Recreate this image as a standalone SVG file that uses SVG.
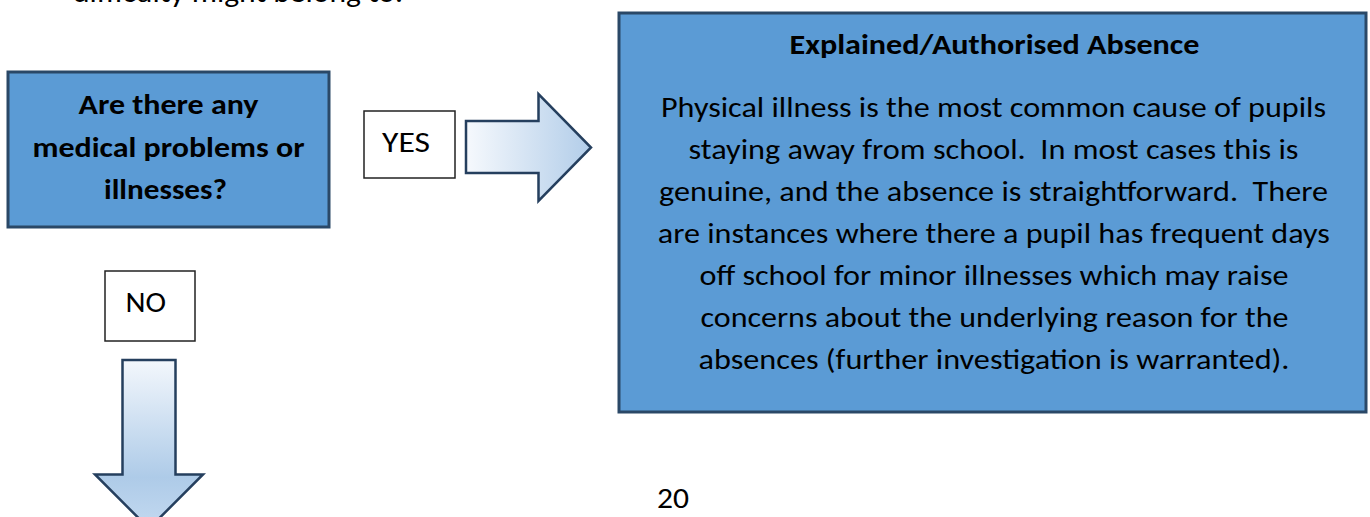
<svg xmlns="http://www.w3.org/2000/svg" width="1370" height="517" viewBox="0 0 1370 517">
  <style>
    .box { fill: #5b9bd5; stroke: #2a4867; stroke-width: 3; }
    .label { fill: #ffffff; stroke: #222222; stroke-width: 1.5; }
    .txt { font-family: Carlito, Lato, "Open Sans", sans-serif; fill: #000000; white-space: pre; }
    .reg { font-size: 29px; }
    .bold { font-size: 29px; font-weight: bold; }
    .mid { text-anchor: middle; }
    .arrow { stroke: #253f5e; stroke-width: 2.5; stroke-linejoin: miter; }
  </style>
  <defs>
    <linearGradient id="gradRight" x1="0" y1="0" x2="1" y2="0">
      <stop offset="0" stop-color="#f6f9fd"/>
      <stop offset="1" stop-color="#b2cde9"/>
    </linearGradient>
    <linearGradient id="gradDown" gradientUnits="userSpaceOnUse" x1="0" y1="360" x2="0" y2="528">
      <stop offset="0" stop-color="#f3f7fc"/>
      <stop offset="0.7" stop-color="#aecbe8"/>
      <stop offset="1" stop-color="#c3d9f0"/>
    </linearGradient>
  </defs>

  <rect width="1370" height="517" fill="#ffffff"/>

  <!-- running text above the chart, cut by the page edge -->
  <text class="txt reg" x="73" y="2" textLength="330" lengthAdjust="spacingAndGlyphs">difficulty might belong to.</text>

  <!-- question -->
  <g id="node-question">
    <rect class="box" x="8" y="72" width="321" height="155"/>
    <text class="txt bold mid" x="168.5" y="114" textLength="180" lengthAdjust="spacingAndGlyphs">Are there any</text>
    <text class="txt bold mid" x="168.5" y="156.5" textLength="272" lengthAdjust="spacingAndGlyphs">medical problems or</text>
    <text class="txt bold mid" x="165.5" y="199" textLength="123" lengthAdjust="spacingAndGlyphs">illnesses?</text>
  </g>

  <!-- answer labels -->
  <g id="label-yes">
    <rect class="label" x="364" y="111" width="91" height="67"/>
    <text class="txt reg" x="382" y="151.5" textLength="48" lengthAdjust="spacingAndGlyphs">YES</text>
  </g>
  <g id="label-no">
    <rect class="label" x="105" y="271" width="90" height="70"/>
    <text class="txt reg" x="125.5" y="311.5" textLength="40.5" lengthAdjust="spacingAndGlyphs">NO</text>
  </g>

  <!-- outcome -->
  <g id="node-authorised">
    <rect class="box" x="619" y="13" width="747" height="399"/>
    <text class="txt bold mid" x="994.5" y="53.5" textLength="410" lengthAdjust="spacingAndGlyphs">Explained/Authorised Absence</text>
    <text class="txt reg mid" x="993.5" y="117.3" textLength="665" lengthAdjust="spacingAndGlyphs">Physical illness is the most common cause of pupils</text>
    <text class="txt reg mid" x="993.5" y="159.3" textLength="610" lengthAdjust="spacingAndGlyphs">staying away from school.  In most cases this is</text>
    <text class="txt reg mid" x="993.5" y="201.3" textLength="669" lengthAdjust="spacingAndGlyphs">genuine, and the absence is straightforward.  There</text>
    <text class="txt reg mid" x="993.8" y="243.3" textLength="672" lengthAdjust="spacingAndGlyphs">are instances where there a pupil has frequent days</text>
    <text class="txt reg mid" x="994" y="285.3" textLength="589" lengthAdjust="spacingAndGlyphs">off school for minor illnesses which may raise</text>
    <text class="txt reg mid" x="994.5" y="327.3" textLength="588" lengthAdjust="spacingAndGlyphs">concerns about the underlying reason for the</text>
    <text class="txt reg mid" x="994" y="369.3" textLength="591" lengthAdjust="spacingAndGlyphs">absences (further investigation is warranted).</text>
  </g>

  <!-- page number -->
  <text class="txt reg" x="657" y="507.5" textLength="32" lengthAdjust="spacingAndGlyphs">20</text>

  <!-- block arrows -->
  <g id="connectors">
    <path class="arrow" fill="url(#gradRight)" d="M466,121 L538.5,121 L538.5,94 L591,147.5 L538.5,201 L538.5,173 L466,173 Z"/>
    <path class="arrow" fill="url(#gradDown)" d="M122.5,360 L175.5,360 L175.5,474.5 L203,474.5 L149,528.5 L95,474.5 L122.5,474.5 Z"/>
  </g>
</svg>
